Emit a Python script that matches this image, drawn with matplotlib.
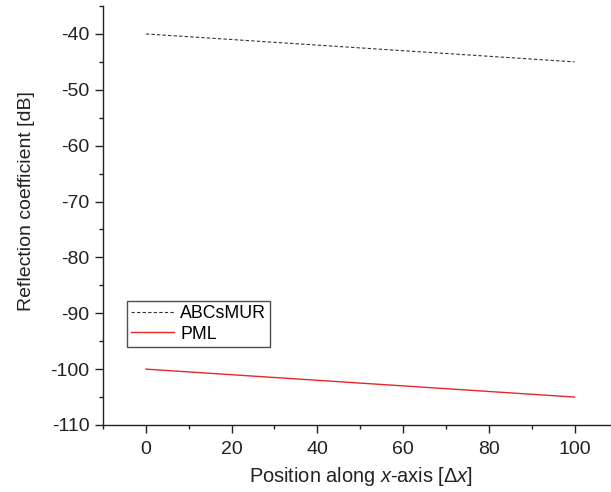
import matplotlib
matplotlib.use("Agg")
import matplotlib.pyplot as plt
from matplotlib.ticker import MultipleLocator

plt.rcParams['font.family'] = ['Liberation Sans', 'DejaVu Sans']
plt.rcParams['mathtext.fontset'] = 'custom'
plt.rcParams['mathtext.rm'] = 'Liberation Sans'
plt.rcParams['mathtext.it'] = 'Liberation Sans:italic'
plt.rcParams['axes.unicode_minus'] = False

x_pos = [0, 100]
abc_mur = [-40, -45]
pml = [-100, -105]

fig = plt.figure(figsize=(6.11, 4.92), dpi=100)
ax = fig.add_axes([0.1686, 0.1362, 0.8314, 0.8516])

ax.plot(x_pos, abc_mur, color='#333333', lw=0.8, ls=(0, (3, 2)), label='ABCsMUR')
ax.plot(x_pos, pml, color='#e8262a', lw=1.0, label='PML')

ax.set_xlim(-10, 108.5)
ax.set_ylim(-110, -35)
ax.xaxis.set_major_locator(MultipleLocator(20))
ax.xaxis.set_minor_locator(MultipleLocator(10))
ax.yaxis.set_major_locator(MultipleLocator(10))
ax.yaxis.set_minor_locator(MultipleLocator(5))
ax.set_yticks(range(-110, -39, 10))

for s in ['top', 'right']:
    ax.spines[s].set_visible(False)
for s in ['left', 'bottom']:
    ax.spines[s].set_linewidth(1.0)
    ax.spines[s].set_color('#222222')

ax.tick_params(which='major', direction='out', length=5.8, width=1.0, labelsize=14, colors='#222222')
ax.tick_params(axis='y', which='major', pad=4)
ax.tick_params(axis='x', which='major', pad=6)
ax.tick_params(which='minor', direction='out', length=3.2, width=1.0, colors='#222222')

ax.set_xlabel('Position along $x$-axis [$\\Delta x$]', fontsize=14.4, color='#222222')
ax.set_ylabel('Reflection coefficient [dB]', fontsize=14, color='#222222')
ax.xaxis.set_label_coords(0.508, -0.095)
ax.yaxis.set_label_coords(-0.134, 0.535)

leg = ax.legend(loc='lower left', bbox_to_anchor=(0.047, 0.186), fontsize=12.75,
                frameon=True, fancybox=False, edgecolor='#222222', handlelength=2.4,
                borderpad=0.25, labelspacing=0.2, handletextpad=0.35, borderaxespad=0)
leg.get_frame().set_linewidth(1.0)

fig.savefig('out.png', dpi=100)
